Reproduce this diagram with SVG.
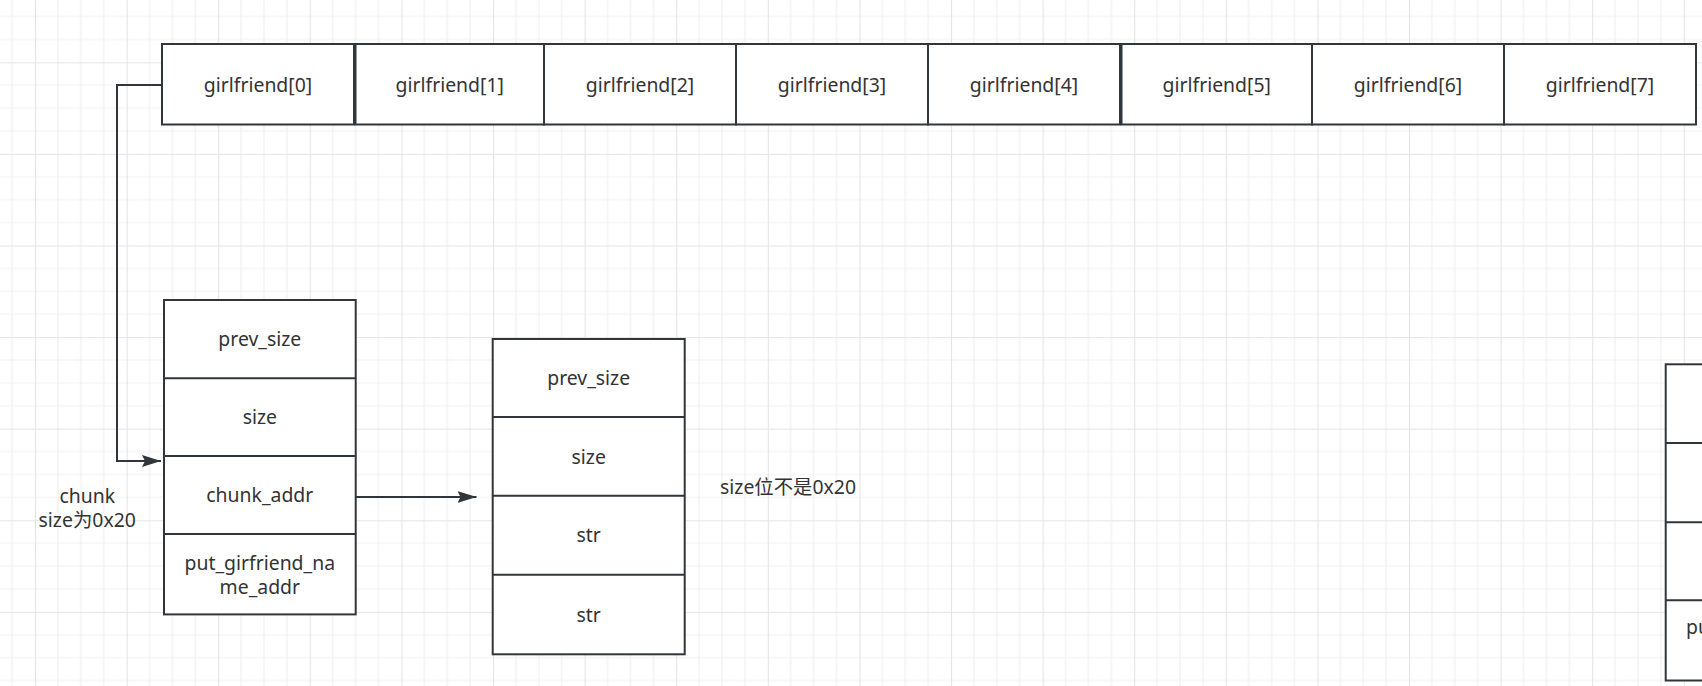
<svg xmlns="http://www.w3.org/2000/svg" width="1702" height="686" viewBox="0 0 1702 686">
<style>
  .box { fill: #ffffff; stroke: #30363b; stroke-width: 2; }
  .div { stroke: #30363b; stroke-width: 2; fill: none; }
  .t { font-family: "Noto Sans", "Noto Sans CJK SC", sans-serif; font-size: 19.4px; fill: #333333; }
  .c { text-anchor: middle; }
  .edge { stroke: #30363b; stroke-width: 2; fill: none; }
</style>
<defs>
  <pattern id="grid" x="35" y="62.3" width="91.6" height="91.6" patternUnits="userSpaceOnUse">
    <path d="M22.9,0 V91.6 M45.8,0 V91.6 M68.7,0 V91.6 M0,22.9 H91.6 M0,45.8 H91.6 M0,68.7 H91.6" stroke="#f1f1f1" stroke-width="1.2" fill="none"/>
    <path d="M0.5,0 V91.6 M0,0.5 H91.6" stroke="#e4e4e4" stroke-width="1.2" fill="none"/>
  </pattern>
  <marker id="arrow" viewBox="0 0 20 13" refX="19" refY="6.5" markerWidth="20" markerHeight="13" markerUnits="userSpaceOnUse" orient="auto">
    <path d="M0,0.5 L19,6.5 L0,12.5 L3,6.5 Z" fill="#30363b"/>
  </marker>
</defs>
<rect x="0" y="0" width="1702" height="686" fill="#ffffff"/>
<rect x="0" y="0" width="1702" height="686" fill="url(#grid)"/>

<g id="girlfriend0"><rect class="box" x="162" y="44" width="192" height="80.5"/><text class="t c" x="258" y="91.5">girlfriend[0]</text></g>
<g id="girlfriend1"><rect class="box" x="355.5" y="44" width="188.5" height="80.5"/><text class="t c" x="449.7" y="91.5">girlfriend[1]</text></g>
<g id="girlfriend2"><rect class="box" x="544" y="44" width="192" height="80.5"/><text class="t c" x="640" y="91.5">girlfriend[2]</text></g>
<g id="girlfriend3"><rect class="box" x="736" y="44" width="192" height="80.5"/><text class="t c" x="832" y="91.5">girlfriend[3]</text></g>
<g id="girlfriend4"><rect class="box" x="928" y="44" width="192" height="80.5"/><text class="t c" x="1024" y="91.5">girlfriend[4]</text></g>
<g id="girlfriend5"><rect class="box" x="1121.5" y="44" width="190.5" height="80.5"/><text class="t c" x="1216.7" y="91.5">girlfriend[5]</text></g>
<g id="girlfriend6"><rect class="box" x="1312" y="44" width="192" height="80.5"/><text class="t c" x="1408" y="91.5">girlfriend[6]</text></g>
<g id="girlfriend7"><rect class="box" x="1504" y="44" width="192" height="80.5"/><text class="t c" x="1600" y="91.5">girlfriend[7]</text></g>

<g id="chunk1">
  <rect class="box" x="164" y="300" width="191.7" height="314.4"/>
  <path class="div" d="M164,378.3 H355.7 M164,456 H355.7 M164,534.1 H355.7"/>
  <text class="t c" x="259.8" y="346">prev_size</text>
  <text class="t c" x="259.8" y="424">size</text>
  <text class="t c" x="259.8" y="502">chunk_addr</text>
  <text class="t c" x="259.8" y="569.5">put_girfriend_na</text>
  <text class="t c" x="259.8" y="593.5">me_addr</text>
</g>

<g id="chunk2">
  <rect class="box" x="492.7" y="339" width="192" height="315.3"/>
  <path class="div" d="M492.7,417 H684.7 M492.7,495.7 H684.7 M492.7,574.7 H684.7"/>
  <text class="t c" x="588.7" y="385">prev_size</text>
  <text class="t c" x="588.7" y="463.5">size</text>
  <text class="t c" x="588.7" y="542">str</text>
  <text class="t c" x="588.7" y="621.5">str</text>
</g>

<g id="chunk3">
  <rect class="box" x="1665.7" y="364.3" width="192" height="316.2"/>
  <path class="div" d="M1665.7,443 H1857.7 M1665.7,522.3 H1857.7 M1665.7,600.3 H1857.7"/>
  <text class="t" x="1686" y="634">pu</text>
</g>

<g id="label-chunk">
  <text class="t c" x="87.2" y="503">chunk</text>
  <text class="t c" x="87.2" y="527">size为0x20</text>
</g>
<g id="label-size">
  <text class="t" x="720" y="494">size位不是0x20</text>
</g>

<g id="connectors">
  <path class="edge" d="M162,85 H117 V461 H161" marker-end="url(#arrow)"/>
  <path class="edge" d="M355.7,497 H476.5" marker-end="url(#arrow)"/>
</g>
</svg>
